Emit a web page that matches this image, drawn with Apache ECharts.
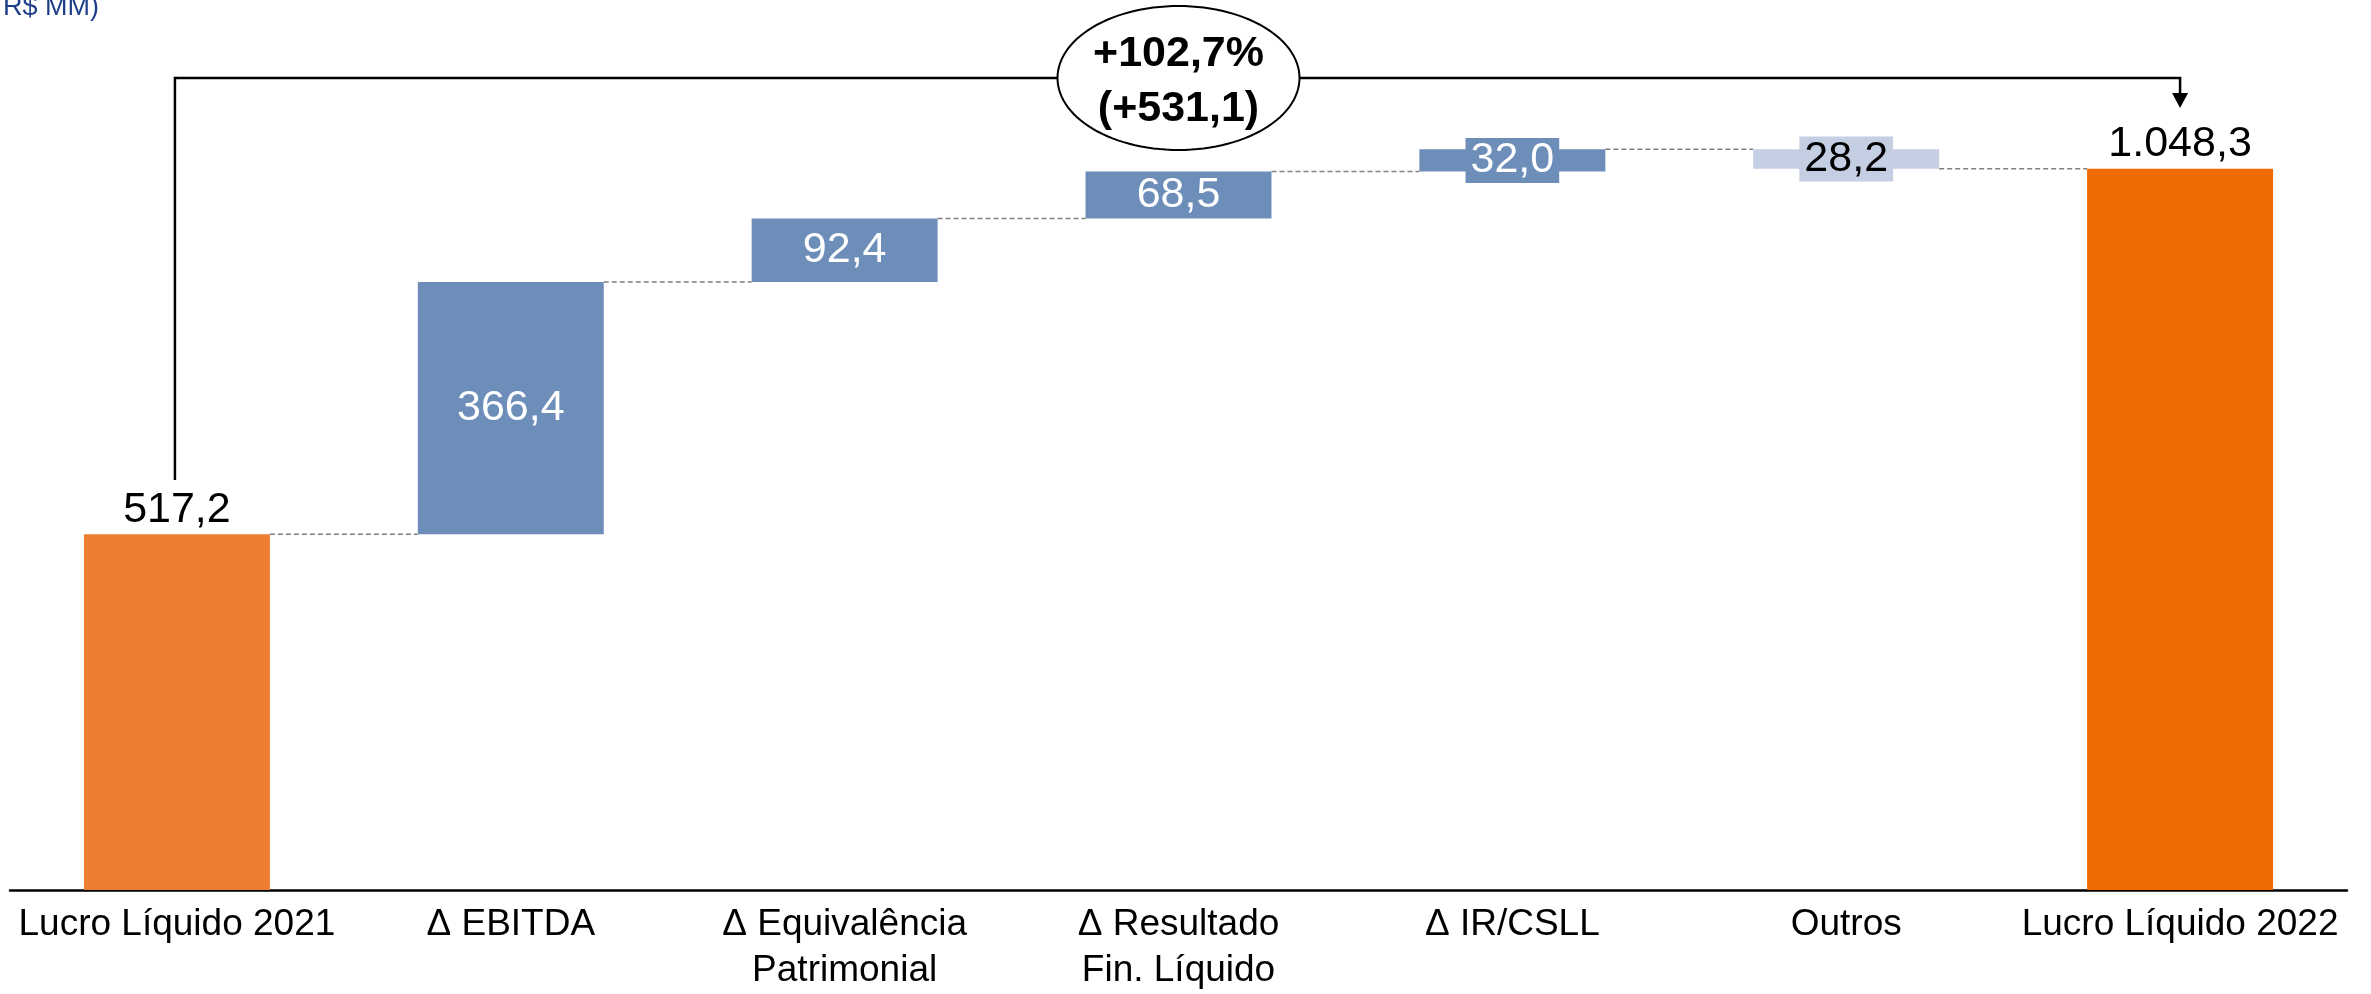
<!DOCTYPE html>
<html>
<head>
<meta charset="utf-8">
<script src="https://cdn.jsdelivr.net/npm/echarts@6/dist/echarts.min.js"></script>
<style>
html,body{margin:0;padding:0;background:#fff;}
#chart{width:2371px;height:994px;}
</style>
</head>
<body>
<div id="chart"></div>
<script>
const categories = ['Lucro Líquido 2021', 'Δ EBITDA', 'Δ Equivalência\nPatrimonial', 'Δ Resultado\nFin. Líquido', 'Δ IR/CSLL', 'Outros', 'Lucro Líquido 2022'];
const values = [517.2, 366.4, 92.4, 68.5, 32.0, -28.2, 1048.3];
const valueLabels = ['517,2', '366,4', '92,4', '68,5', '32,0', '28,2', '1.048,3'];
const isTotal = [true, false, false, false, false, false, true];
const barColors = ['#ED7D31', '#6E8EBA', '#6E8EBA', '#6E8EBA', '#6E8EBA', '#C4CFE3', '#EE6A02'];
const labelColors = ['#000', '#fff', '#fff', '#fff', '#fff', '#000', '#000'];
const changeText = '+102,7%\n(+531,1)';
const unitText = 'R$ MM)';

const FONT = '"Liberation Sans", Arial, sans-serif';
const BAR_RATIO = 0.557;

// waterfall computations
const baseData = [], barData = [], levels = [];
let running = 0;
values.forEach((v, i) => {
  if (isTotal[i]) {
    baseData.push(0);
    barData.push(v);
    running = v;
  } else {
    const next = running + v;
    baseData.push(Math.min(running, next));
    barData.push(Math.abs(v));
    running = next;
  }
  levels.push(running);
});

const barSeriesData = barData.map((v, i) => ({
  value: v,
  itemStyle: { color: barColors[i] },
  label: isTotal[i] ? {
    show: true, position: 'top', distance: 3, color: labelColors[i],
    fontSize: 43, fontFamily: FONT, formatter: valueLabels[i]
  } : {
    show: true, position: 'inside', color: labelColors[i],
    fontSize: 43, fontFamily: FONT, formatter: valueLabels[i],
    backgroundColor: barColors[i], padding: [2, 5, 0, 5]
  }
}));

const connectorData = levels.slice(0, levels.length - 1).map((l, i) => [i, l]);

const chart = echarts.init(document.getElementById('chart'));
chart.setOption({
  animation: false,
  backgroundColor: '#fff',
  grid: { left: 10, right: 24, top: 30, bottom: 103, containLabel: false },
  xAxis: {
    type: 'category',
    data: categories,
    axisLine: { show: true, lineStyle: { color: '#000', width: 2.5 } },
    axisTick: { show: false },
    axisLabel: { color: '#000', fontSize: 37, fontFamily: FONT, lineHeight: 46, margin: 12, interval: 0 }
  },
  yAxis: {
    type: 'value', min: 0, max: 1250, show: false, splitLine: { show: false }
  },
  graphic: [{
    type: 'text', left: 3, top: -6,
    style: { text: unitText, fill: '#1F3F87', fontSize: 27, fontFamily: FONT }
  }],
  series: [
    {
      type: 'bar', stack: 'w', data: baseData, barWidth: (BAR_RATIO * 100) + '%',
      itemStyle: { color: 'transparent' }, silent: true
    },
    {
      type: 'bar', stack: 'w', data: barSeriesData, barWidth: (BAR_RATIO * 100) + '%'
    },
    {
      type: 'custom', data: connectorData, z: 1, clip: false,
      renderItem: function (params, api) {
        const i = api.value(0), lv = api.value(1);
        const p1 = api.coord([i, lv]);
        const p2 = api.coord([i + 1, lv]);
        const hw = api.size([1, 0])[0] * BAR_RATIO / 2;
        return {
          type: 'line',
          shape: { x1: p1[0] + hw, y1: p1[1], x2: p2[0] - hw, y2: p2[1] },
          style: { stroke: '#7F7F7F', lineWidth: 1.5, lineDash: [5, 3] }
        };
      }
    },
    {
      type: 'custom', data: [[0]], z: 5, clip: false,
      renderItem: function (params, api) {
        const x0 = api.coord([0, 0])[0];
        const x6 = api.coord([values.length - 1, 0])[0];
        const xm = api.coord([3, 0])[0];
        const lineY = 78, leftBottom = 480, arrowTip = 108;
        const cx = xm, cy = 78, rx = 121, ry = 72;
        const pts = [];
        for (let k = 0; k < 120; k++) {
          const a = k / 120 * Math.PI * 2;
          pts.push([cx + rx * Math.cos(a), cy + ry * Math.sin(a)]);
        }
        return {
          type: 'group',
          children: [
            { type: 'polyline', shape: { points: [[x0 - 2, leftBottom], [x0 - 2, lineY], [x6, lineY], [x6, arrowTip - 12]] },
              style: { stroke: '#000', lineWidth: 2.5, fill: null } },
            { type: 'polygon', shape: { points: [[x6 - 8, arrowTip - 15], [x6 + 8, arrowTip - 15], [x6, arrowTip]] },
              style: { fill: '#000' } },
            { type: 'polygon', shape: { points: pts }, style: { fill: '#fff', stroke: '#000', lineWidth: 2 } },
            { type: 'text', x: cx, y: cy + 4,
              style: { text: changeText, fill: '#000', fontSize: 43, fontWeight: 'bold', fontFamily: FONT,
                       align: 'center', verticalAlign: 'middle', lineHeight: 55 } }
          ]
        };
      }
    }
  ]
});
</script>
</body>
</html>
